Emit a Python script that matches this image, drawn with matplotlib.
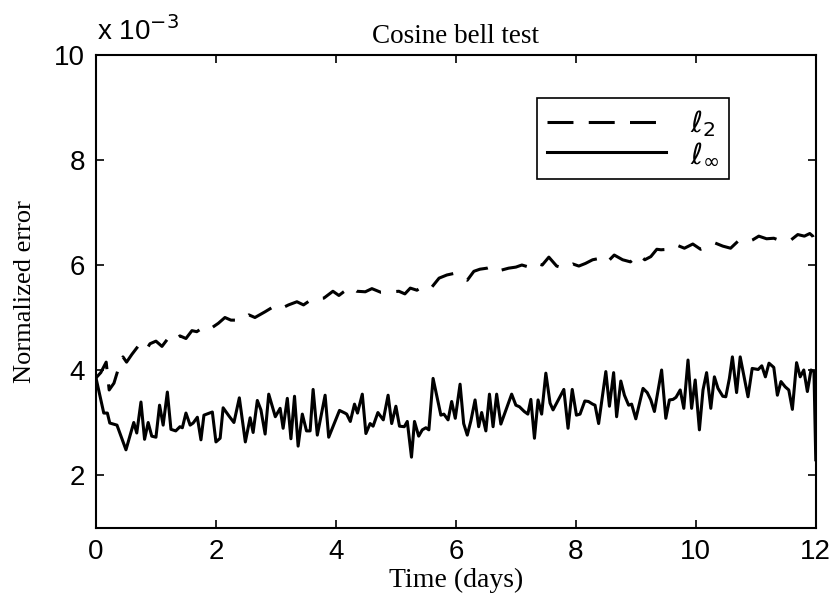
import matplotlib
matplotlib.use("Agg")
import matplotlib.pyplot as plt

# values in units of 1e-3
t_l2 = [0.0, 0.08, 0.17, 0.22, 0.3, 0.38, 0.45, 0.51, 0.6, 0.7, 0.82, 0.9, 1.0, 1.1, 1.2, 1.29,
        1.4, 1.5, 1.6, 1.68, 1.8, 1.9, 2.04, 2.15, 2.25, 2.43, 2.55, 2.65, 2.82, 2.95, 3.05, 3.21,
        3.35, 3.46, 3.6, 3.8, 3.95, 4.05, 4.13, 4.25, 4.35, 4.49, 4.6, 4.75, 4.94, 5.05, 5.15, 5.24,
        5.35, 5.49, 5.6, 5.72, 5.85, 5.97, 6.08, 6.19, 6.3, 6.4, 6.52, 6.62, 6.75, 6.88, 7.0, 7.1,
        7.19, 7.3, 7.44, 7.55, 7.68, 7.8, 7.95, 8.05, 8.16, 8.28, 8.41, 8.52, 8.64, 8.78, 8.91, 9.05,
        9.15, 9.25, 9.35, 9.42, 9.55, 9.68, 9.81, 9.95, 10.08, 10.2, 10.32, 10.45, 10.58, 10.7, 10.82,
        10.95, 11.05, 11.18, 11.3, 11.42, 11.59, 11.7, 11.81, 11.9, 11.95, 12.0]
err_l2 = [3.85, 3.95, 4.15, 3.62, 3.75, 4.05, 4.25, 4.15, 4.3, 4.45, 4.35, 4.5, 4.55, 4.45, 4.6, 4.54,
          4.65, 4.6, 4.75, 4.73, 4.82, 4.78, 4.89, 5.0, 4.95, 4.95, 5.05, 5.0, 5.11, 5.2, 5.15, 5.24,
          5.3, 5.24, 5.35, 5.37, 5.5, 5.42, 5.49, 5.58, 5.5, 5.49, 5.55, 5.48, 5.49, 5.5, 5.45, 5.56,
          5.52, 5.62, 5.58, 5.75, 5.81, 5.84, 5.78, 5.71, 5.88, 5.92, 5.94, 5.98, 5.9, 5.94, 5.96, 6.0,
          5.97, 6.05, 6.0, 6.15, 5.98, 5.94, 6.02, 5.98, 6.03, 6.1, 6.13, 6.05, 6.19, 6.1, 6.06, 6.2,
          6.1, 6.16, 6.3, 6.29, 6.3, 6.38, 6.32, 6.4, 6.3, 6.35, 6.42, 6.36, 6.32, 6.45, 6.42,
          6.48, 6.55, 6.5, 6.51, 6.46, 6.48, 6.58, 6.55, 6.6, 6.55, 6.38]

t_linf = [0.0, 0.13, 0.19, 0.23, 0.35, 0.50, 0.63, 0.68, 0.75, 0.81, 0.87, 0.93, 1.0, 1.06, 1.12,
          1.19, 1.25, 1.33, 1.40, 1.44, 1.50, 1.57, 1.62, 1.69, 1.75, 1.80, 1.89, 1.94, 2.00, 2.07,
          2.12, 2.22, 2.30, 2.39, 2.49, 2.57, 2.62, 2.69, 2.75, 2.82, 2.88, 2.99, 3.07, 3.12, 3.19,
          3.25, 3.31, 3.37, 3.44, 3.51, 3.57, 3.62, 3.69, 3.82, 3.88, 4.06, 4.15, 4.18, 4.24, 4.31,
          4.36, 4.44, 4.50, 4.57, 4.62, 4.70, 4.79, 4.87, 4.93, 5.0, 5.06, 5.14, 5.19, 5.26, 5.31,
          5.38, 5.44, 5.50, 5.55, 5.62, 5.75, 5.80, 5.87, 5.93, 5.99, 6.07, 6.13, 6.19, 6.25, 6.32,
          6.38, 6.43, 6.50, 6.56, 6.62, 6.68, 6.75, 6.93, 7.0, 7.06, 7.14, 7.20, 7.25, 7.31, 7.37,
          7.43, 7.50, 7.57, 7.62, 7.80, 7.87, 7.94, 8.01, 8.07, 8.15, 8.21, 8.28, 8.32, 8.38, 8.50,
          8.56, 8.63, 8.68, 8.75, 8.81, 8.88, 8.93, 9.0, 9.12, 9.19, 9.25, 9.31, 9.43, 9.50, 9.56,
          9.62, 9.67, 9.74, 9.80, 9.87, 9.93, 9.99, 10.06, 10.12, 10.18, 10.25, 10.31, 10.37, 10.45,
          10.50, 10.56, 10.61, 10.68, 10.74, 10.81, 10.87, 10.94, 11.04, 11.10, 11.16, 11.22, 11.30,
          11.36, 11.42, 11.49, 11.55, 11.61, 11.68, 11.74, 11.80, 11.86, 11.92, 11.97, 12.0]
err_linf = [3.85, 3.18, 3.18, 2.99, 2.95, 2.48, 3.0, 2.8, 3.39, 2.68, 3.0, 2.74, 2.72, 3.33, 2.95,
            3.58, 2.87, 2.84, 2.92, 2.9, 3.18, 2.95, 2.99, 3.1, 2.67, 3.14, 3.18, 3.2, 2.63, 2.7,
            3.28, 3.12, 3.0, 3.47, 2.63, 3.09, 2.81, 3.42, 3.24, 2.78, 3.54, 3.11, 3.27, 2.89, 3.46,
            2.69, 3.5, 2.55, 3.16, 2.84, 2.84, 3.63, 2.76, 3.52, 2.72, 3.23, 3.18, 3.16, 3.02, 3.35,
            3.18, 3.54, 2.79, 2.98, 2.93, 3.19, 3.05, 3.52, 2.98, 3.31, 2.93, 2.92, 3.02, 2.34, 3.02,
            2.74, 2.86, 2.9, 2.86, 3.84, 3.14, 3.16, 3.05, 3.4, 3.08, 3.73, 2.98, 2.76, 3.03, 3.43,
            2.92, 3.19, 2.84, 3.54, 2.92, 3.54, 2.97, 3.54, 3.33, 3.3, 3.21, 3.16, 3.44, 2.70, 3.43,
            3.16, 3.94, 3.37, 3.24, 3.63, 2.89, 3.63, 3.14, 3.16, 3.41, 3.4, 3.35, 3.33, 2.98, 3.97,
            3.31, 3.95, 3.11, 3.79, 3.52, 3.33, 3.35, 3.07, 3.65, 3.57, 3.43, 3.21, 4.0, 3.08, 3.43,
            3.44, 3.48, 3.62, 3.27, 4.19, 3.27, 3.81, 2.86, 3.62, 3.95, 3.27, 3.87, 3.65, 3.5,
            3.49, 3.84, 4.25, 3.57, 4.25, 3.84, 3.49, 4.03, 4.01, 4.08, 3.87, 4.13, 4.05,
            3.52, 3.78, 3.68, 3.62, 3.25, 4.14, 3.87, 4.0, 3.59, 4.0, 3.97, 2.29]

xticks = [0, 2, 4, 6, 8, 10, 12]
yticks = [2, 4, 6, 8, 10]

sans = "Liberation Sans"
serif = "Liberation Serif"

fig = plt.figure(figsize=(8.36, 6.08), dpi=100)
ax = fig.add_axes([0.1148, 0.1324, 0.861, 0.7771])

ax.plot(t_l2, err_l2, color="black", lw=2.2, dashes=(8.5, 5), label=r"$\ell_2$")
ax.plot(t_linf, err_linf, color="black", lw=2.2, label=r"$\ell_\infty$")

ax.set_xlim(0, 12)
ax.set_ylim(1, 10)
ax.set_xticks(xticks)
ax.set_yticks(yticks)
ax.set_xticklabels([str(v) for v in xticks], family=sans, fontsize=20)
ax.set_yticklabels([str(v) for v in yticks], family=sans, fontsize=20)
ax.tick_params(direction="in", top=True, right=True, length=6, width=1.2, pad=8)
for s in ax.spines.values():
    s.set_linewidth(1.5)

ax.set_title("Cosine bell test", family=serif, fontsize=19.5, pad=9)
ax.set_xlabel("Time (days)", family=serif, fontsize=20, labelpad=2)
ax.set_ylabel("Normalized error", family=serif, fontsize=19, labelpad=13)
fig.text(0.116, 0.925, r"x 10$^{-3}$", family=sans, fontsize=20, ha="left", va="bottom")

leg = ax.legend(loc="upper right", bbox_to_anchor=(0.9, 0.94), fontsize=21,
                handlelength=4.1, handletextpad=0.8, fancybox=False, framealpha=1,
                edgecolor="black", borderpad=0.35, labelspacing=0.05, borderaxespad=0.5)
leg.get_frame().set_linewidth(1.2)

fig.savefig("out.png", dpi=100)
